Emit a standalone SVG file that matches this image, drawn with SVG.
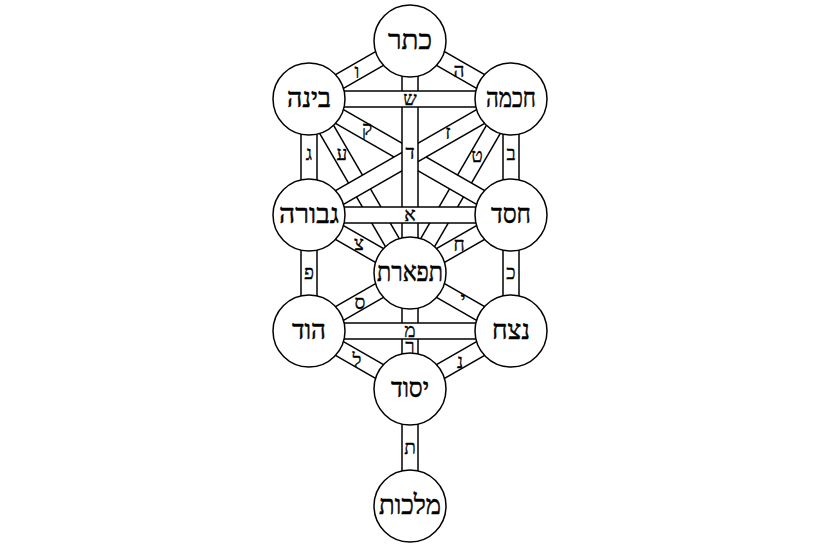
<svg xmlns="http://www.w3.org/2000/svg" width="820" height="547" viewBox="0 0 820 547">
<style>
.o{stroke:#000;stroke-width:17.5;stroke-linecap:butt}
.i{stroke:#fff;stroke-width:14.5;stroke-linecap:butt}
.lt{font-family:"Liberation Serif","DejaVu Sans",serif;font-size:19px;text-anchor:middle;fill:#000;stroke:#000;stroke-width:0.35}
.node circle{fill:#fff;stroke:#000;stroke-width:1.5}
.node text{font-family:"Liberation Serif","DejaVu Sans",serif;font-size:27px;text-anchor:middle;fill:#000;stroke:#000;stroke-width:0.5}
</style>
<rect width="820" height="547" fill="#fff"/>
<g id="connectors">
<g id="p-he"><line class="o" x1="410" y1="41" x2="511" y2="99"/><line class="i" x1="410" y1="41" x2="511" y2="99"/><text class="lt" x="459" y="77">ה</text></g>
<g id="p-vav"><line class="o" x1="410" y1="41" x2="309" y2="99"/><line class="i" x1="410" y1="41" x2="309" y2="99"/><text class="lt" x="357" y="78">ו</text></g>
<g id="p-bet"><line class="o" x1="511" y1="99" x2="511" y2="215"/><line class="i" x1="511" y1="99" x2="511" y2="215"/><text class="lt" x="511" y="160">ב</text></g>
<g id="p-gimel"><line class="o" x1="309" y1="99" x2="309" y2="215"/><line class="i" x1="309" y1="99" x2="309" y2="215"/><text class="lt" x="309" y="160">ג</text></g>
<g id="p-het"><line class="o" x1="511" y1="215" x2="410" y2="273"/><line class="i" x1="511" y1="215" x2="410" y2="273"/><text class="lt" x="459" y="251">ח</text></g>
<g id="p-tsadi"><line class="o" x1="309" y1="215" x2="410" y2="273"/><line class="i" x1="309" y1="215" x2="410" y2="273"/><text class="lt" x="359" y="250">צ</text></g>
<g id="p-kaf"><line class="o" x1="511" y1="215" x2="511" y2="331"/><line class="i" x1="511" y1="215" x2="511" y2="331"/><text class="lt" x="511" y="279">כ</text></g>
<g id="p-pe"><line class="o" x1="309" y1="215" x2="309" y2="331"/><line class="i" x1="309" y1="215" x2="309" y2="331"/><text class="lt" x="309" y="279">פ</text></g>
<g id="p-samekh"><line class="o" x1="410" y1="273" x2="309" y2="331"/><line class="i" x1="410" y1="273" x2="309" y2="331"/><text class="lt" x="360" y="309">ס</text></g>
<g id="p-yod"><line class="o" x1="410" y1="273" x2="511" y2="331"/><line class="i" x1="410" y1="273" x2="511" y2="331"/><text class="lt" x="463" y="306">י</text></g>
<g id="p-lamed"><line class="o" x1="309" y1="331" x2="410" y2="389"/><line class="i" x1="309" y1="331" x2="410" y2="389"/><text class="lt" x="357" y="367">ל</text></g>
<g id="p-nun"><line class="o" x1="511" y1="331" x2="410" y2="389"/><line class="i" x1="511" y1="331" x2="410" y2="389"/><text class="lt" x="460" y="368">נ</text></g>
<g id="p-tav"><line class="o" x1="410" y1="389" x2="410" y2="506"/><line class="i" x1="410" y1="389" x2="410" y2="506"/><text class="lt" x="410" y="454">ת</text></g>
<g id="p-resh"><line class="o" x1="410" y1="273" x2="410" y2="389"/><line class="i" x1="410" y1="273" x2="410" y2="389"/><text class="lt" x="410" y="353">ר</text></g>
<g id="p-ayin"><line class="o" x1="309" y1="99" x2="410" y2="273"/><line class="i" x1="309" y1="99" x2="410" y2="273"/><text class="lt" x="342" y="160">ע</text></g>
<g id="p-tet"><line class="o" x1="511" y1="99" x2="410" y2="273"/><line class="i" x1="511" y1="99" x2="410" y2="273"/><text class="lt" x="477" y="162">ט</text></g>
<g id="p-qof"><line class="o" x1="309" y1="99" x2="511" y2="215"/><line class="i" x1="309" y1="99" x2="511" y2="215"/><text class="lt" x="367" y="135">ק</text></g>
<g id="p-zayin"><line class="o" x1="511" y1="99" x2="309" y2="215"/><line class="i" x1="511" y1="99" x2="309" y2="215"/><text class="lt" x="448" y="139">ז</text></g>
<g id="p-dalet"><line class="o" x1="410" y1="41" x2="410" y2="273"/><line class="i" x1="410" y1="41" x2="410" y2="273"/><text class="lt" x="410" y="159">ד</text></g>
<g id="p-shin"><line class="o" x1="309" y1="99" x2="511" y2="99"/><line class="i" x1="309" y1="99" x2="511" y2="99"/><text class="lt" x="410" y="105">ש</text></g>
<g id="p-alef"><line class="o" x1="309" y1="215" x2="511" y2="215"/><line class="i" x1="309" y1="215" x2="511" y2="215"/><text class="lt" x="410" y="221">א</text></g>
<g id="p-mem"><line class="o" x1="309" y1="331" x2="511" y2="331"/><line class="i" x1="309" y1="331" x2="511" y2="331"/><text class="lt" x="410" y="337">מ</text></g>
</g>
<g id="keter" class="node"><circle cx="410" cy="41" r="36"/><text x="410" y="49" textLength="44" lengthAdjust="spacingAndGlyphs">כתר</text></g>
<g id="binah" class="node"><circle cx="309" cy="99" r="36"/><text x="309" y="107" textLength="44" lengthAdjust="spacingAndGlyphs">בינה</text></g>
<g id="chokhmah" class="node"><circle cx="511" cy="99" r="36"/><text x="511" y="107" textLength="50" lengthAdjust="spacingAndGlyphs">חכמה</text></g>
<g id="gevurah" class="node"><circle cx="309" cy="215" r="36"/><text x="309" y="223" textLength="60" lengthAdjust="spacingAndGlyphs">גבורה</text></g>
<g id="chesed" class="node"><circle cx="511" cy="215" r="36"/><text x="511" y="223" textLength="40" lengthAdjust="spacingAndGlyphs">חסד</text></g>
<g id="tiferet" class="node"><circle cx="410" cy="273" r="36"/><text x="410" y="281" textLength="66" lengthAdjust="spacingAndGlyphs">תפארת</text></g>
<g id="hod" class="node"><circle cx="309" cy="331" r="36"/><text x="309" y="339" textLength="34" lengthAdjust="spacingAndGlyphs">הוד</text></g>
<g id="netzach" class="node"><circle cx="511" cy="331" r="36"/><text x="511" y="339" textLength="38" lengthAdjust="spacingAndGlyphs">נצח</text></g>
<g id="yesod" class="node"><circle cx="410" cy="389" r="36"/><text x="410" y="397" textLength="38" lengthAdjust="spacingAndGlyphs">יסוד</text></g>
<g id="malkhut" class="node"><circle cx="410" cy="506" r="36"/><text x="410" y="514" textLength="62" lengthAdjust="spacingAndGlyphs">מלכות</text></g>
</svg>
